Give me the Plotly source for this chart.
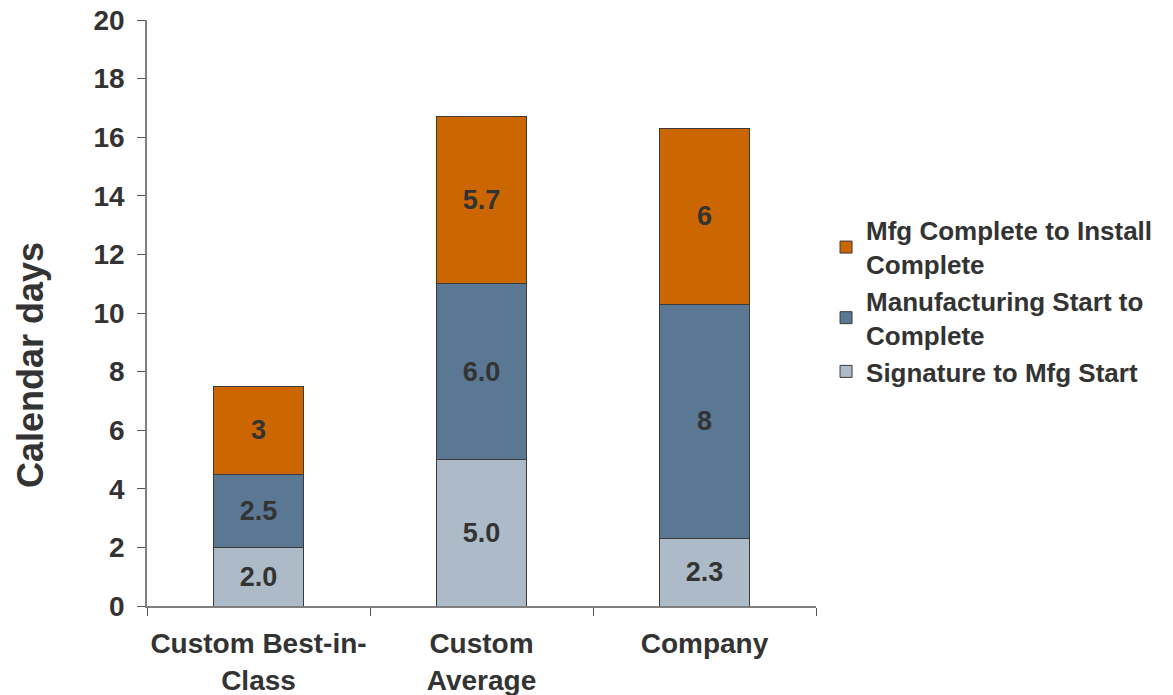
import plotly.graph_objects as go

# Categories and stacked segment values (labels are the printed values)
categories = ["Custom Best-in-<br>Class", "Custom<br>Average", "Company"]
signature_labels = ["2.0", "5.0", "2.3"]
manufacturing_labels = ["2.5", "6.0", "8"]
install_labels = ["3", "5.7", "6"]

signature = [float(s) for s in signature_labels]
manufacturing = [float(s) for s in manufacturing_labels]
install = [float(s) for s in install_labels]

series_names = [
    "Signature to Mfg Start",
    "Manufacturing Start to<br>Complete",
    "Mfg Complete to Install<br>Complete",
]
series_colors = ["#ADBBC9", "#5A7893", "#CC6600"]

FONT = "Liberation Sans, Arial, Helvetica, sans-serif"
TEXT_COLOR = "#333333"

fig = go.Figure()
for name, vals, labels, color in zip(
    series_names,
    [signature, manufacturing, install],
    [signature_labels, manufacturing_labels, install_labels],
    series_colors,
):
    fig.add_trace(
        go.Bar(
            name=name,
            x=categories,
            y=vals,
            text=labels,
            textposition="inside",
            insidetextanchor="middle",
            constraintext="none",
            textangle=0,
            textfont=dict(family=FONT, size=27, color=TEXT_COLOR, weight="bold"),
            marker=dict(color=color, line=dict(color="#3a3a3a", width=1)),
            hoverinfo="skip",
        )
    )

fig.update_layout(
    width=1173,
    height=695,
    barmode="stack",
    bargap=0.6,
    plot_bgcolor="white",
    paper_bgcolor="white",
    margin=dict(l=147, r=357, t=20, b=89, autoexpand=False),
    font=dict(family=FONT, color=TEXT_COLOR),
    legend=dict(
        traceorder="reversed",
        x=1.015,
        xanchor="left",
        y=0.52,
        yanchor="middle",
        font=dict(family=FONT, size=26, color=TEXT_COLOR, weight="bold"),
        bgcolor="rgba(0,0,0,0)",
        itemclick=False,
    ),
    showlegend=True,
    annotations=[
        dict(
            text="Calendar days",
            xref="paper",
            yref="paper",
            x=-0.175,
            y=0.411,
            xanchor="center",
            yanchor="middle",
            textangle=-90,
            showarrow=False,
            font=dict(family=FONT, size=36, color=TEXT_COLOR, weight="bold"),
        )
    ],
)

fig.update_yaxes(
    range=[0, 20],
    dtick=2,
    showgrid=False,
    zeroline=False,
    showline=True,
    linecolor="#7f7f7f",
    linewidth=1.5,
    ticks="outside",
    ticklen=8,
    tickcolor="#555555",
    ticklabelstandoff=7,
    tickfont=dict(family=FONT, size=28, color=TEXT_COLOR, weight="bold"),
    automargin=False,
)

fig.update_xaxes(
    showgrid=False,
    showline=True,
    linecolor="#7f7f7f",
    linewidth=1.5,
    ticks="outside",
    tickson="boundaries",
    ticklen=8,
    tickcolor="#555555",
    tickangle=0,
    ticklabelstandoff=12,
    tickfont=dict(family=FONT, size=28, color=TEXT_COLOR, weight="bold"),
    automargin=False,
)

fig.write_html("out.html")
